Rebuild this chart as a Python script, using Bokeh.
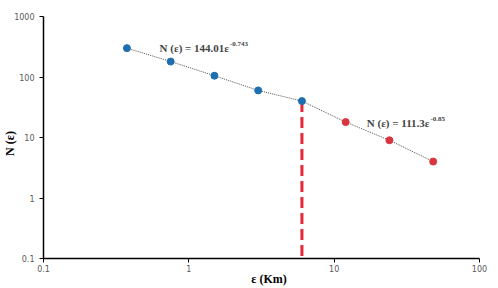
from bokeh.plotting import figure
from bokeh.models import Range1d, FixedTicker, Label
from bokeh.embed import file_html
from bokeh.resources import INLINE

# data
x_blue = [0.375, 0.75, 1.5, 3, 6]
y_blue = [300, 180, 105, 60, 40]
x_red = [12, 24, 48]
y_red = [18, 9, 4]
x_all = x_blue + x_red
y_all = y_blue + y_red
break_x = [6, 6]
break_y = [40, 0.1]
x_ticks = [0.1, 1, 10, 100]
y_ticks = [0.1, 1, 10, 100, 1000]
eq1_main, eq1_exp = "N (\u03b5) = 144.01\u03b5", "-0.743"
eq2_main, eq2_exp = "N (\u03b5) = 111.3\u03b5", "-0.85"
x_title = "\u00a0\u00a0\u00a0\u00a0\u00a0\u03b5 (Km)"
y_title = "N (\u03b5)\u00a0\u00a0\u00a0\u00a0"

p = figure(width=498, height=288, x_axis_type="log", y_axis_type="log",
           x_range=Range1d(0.1, 100), y_range=Range1d(0.1, 1000),
           output_backend="svg", toolbar_location=None,
           min_border_left=42, min_border_right=19, min_border_top=16, min_border_bottom=29)
p.outline_line_color = None
p.xgrid.visible = False
p.ygrid.visible = False
p.background_fill_color = "white"
p.border_fill_color = "white"

font = "Liberation Serif"
for ax, ticks in ((p.xaxis[0], x_ticks), (p.yaxis[0], y_ticks)):
    ax.ticker = FixedTicker(ticks=ticks, minor_ticks=[])
    ax.axis_line_color = "black"
    ax.axis_line_width = 1.5
    ax.major_tick_line_color = "black"
    ax.major_tick_in = 0
    ax.major_tick_out = 4
    ax.minor_tick_line_color = None
    ax.major_label_text_font = "DejaVu Sans"
    ax.major_label_text_font_size = "8px"
    ax.major_label_text_color = "#595959"
    ax.axis_label_text_font = font
    ax.axis_label_text_font_style = "bold"
    ax.axis_label_text_font_size = "12px"
    ax.axis_label_text_color = "black"

p.xaxis[0].major_label_overrides = {0.1: "0.1", 1: "1", 10: "10", 100: "100"}
p.yaxis[0].major_label_overrides = {0.1: "0.1", 1: "1", 10: "10", 100: "100", 1000: "1000"}
p.xaxis[0].major_label_standoff = 2
p.yaxis[0].major_label_standoff = 5
p.xaxis[0].axis_label = x_title
p.yaxis[0].axis_label = y_title
p.xaxis[0].axis_label_standoff = -3
p.yaxis[0].axis_label_standoff = -6

p.line(break_x, break_y, line_color="#e8283a", line_width=3, line_dash="11 5")
p.line(x_all, y_all, line_color="#555555", line_width=1, line_dash="1 1")
p.scatter(x_blue, y_blue, size=7, fill_color="#1f6fb0", line_color="#1f6fb0")
p.scatter(x_red, y_red, size=7, fill_color="#d9343f", line_color="#d9343f")

p.add_layout(Label(x=1.89, y=300, text=eq1_main, text_align="right", text_baseline="middle",
                   text_font=font, text_font_style="bold", text_font_size="11px"))
p.add_layout(Label(x=1.89, y=300, x_offset=1, y_offset=4, text=eq1_exp, text_align="left",
                   text_baseline="middle", text_font=font, text_font_style="bold", text_font_size="7px"))
p.add_layout(Label(x=45.3, y=17.3, text=eq2_main, text_align="right", text_baseline="middle",
                   text_font=font, text_font_style="bold", text_font_size="11px"))
p.add_layout(Label(x=45.3, y=17.3, x_offset=1, y_offset=4, text=eq2_exp, text_align="left",
                   text_baseline="middle", text_font=font, text_font_style="bold", text_font_size="7px"))

open("out.html", "w").write(file_html(p, INLINE))
